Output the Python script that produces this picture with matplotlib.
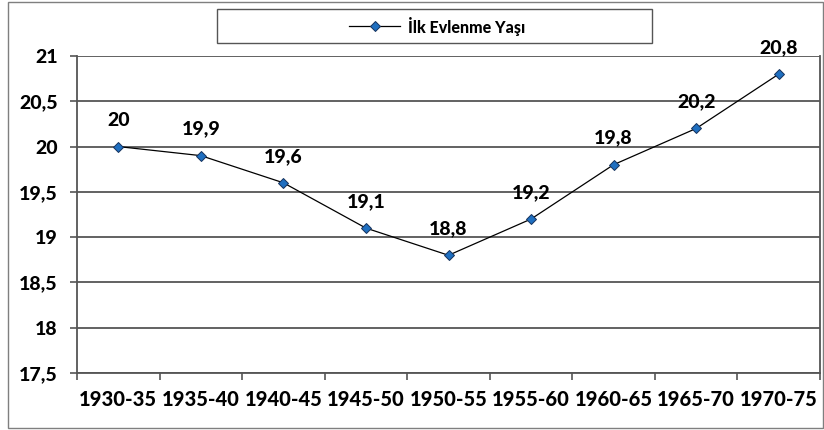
import matplotlib.pyplot as plt
from matplotlib.patches import Rectangle
from matplotlib.lines import Line2D

plt.rcParams['font.family'] = ['Lato', 'DejaVu Sans']

periods = ["1930-35", "1935-40", "1940-45", "1945-50", "1950-55",
           "1955-60", "1960-65", "1965-70", "1970-75"]
age = [20, 19.9, 19.6, 19.1, 18.8, 19.2, 19.8, 20.2, 20.8]
yticks = [17.5, 18, 18.5, 19, 19.5, 20, 20.5, 21]
series_name = "İlk Evlenme Yaşı"

W, H = 824, 430
fig = plt.figure(figsize=(W / 100, H / 100), dpi=100)
wt = 900

# outer chart border
fig.patches.append(Rectangle((8 / W, 2 / H), (823 - 8) / W, (428 - 2) / H,
                             transform=fig.transFigure, fill=False,
                             edgecolor='#7f7f7f', lw=1.0))

ax = fig.add_axes([77 / W, (H - 373) / H, (820 - 77) / W, (373 - 56) / H])
x = list(range(len(periods)))
ax.plot(x, age, color='black', lw=0.9, marker='D', markersize=5,
        markerfacecolor='#1f6fc0', markeredgecolor='#16325c', markeredgewidth=0.7,
        zorder=3)
for xi, v in zip(x, age):
    ax.annotate(("%g" % v).replace('.', ','), (xi, v), xytext=(0, 13),
                textcoords='offset points', ha='center', va='bottom',
                fontsize=14, fontweight=wt)

ax.set_xlim(-0.5, len(periods) - 0.5)
ax.set_ylim(17.5, 21)
ax.set_yticks(yticks)
ax.set_yticklabels([("%g" % t).replace('.', ',') for t in yticks],
                   fontsize=14, fontweight=wt)
ax.set_xticks(x)
ax.set_xticklabels(periods, fontsize=14.5, fontweight=wt)
ax.set_xticks([i - 0.5 for i in range(len(periods) + 1)], minor=True)
ax.tick_params(axis='x', which='major', length=0, pad=12)
ax.tick_params(axis='x', which='minor', length=5, width=1.2, color='#555555')
ax.tick_params(axis='y', length=5, width=1.2, color='#555555', pad=9)
ax.grid(axis='y', color='#555555', lw=1.3)
ax.set_axisbelow(True)
for s in ['top']:
    ax.spines[s].set_visible(False)
for s in ['left', 'bottom', 'right']:
    ax.spines[s].set_color('#555555')
    ax.spines[s].set_linewidth(1.3)

# legend box
fig.patches.append(Rectangle((217 / W, (H - 43) / H), (652 - 217) / W, (43 - 9) / H,
                             transform=fig.transFigure, fill=False,
                             edgecolor='#555555', lw=1.0))
ly = (H - 26) / H
fig.lines.append(Line2D([349 / W, 400 / W], [ly, ly], transform=fig.transFigure,
                        color='black', lw=0.9))
fig.lines.append(Line2D([374.5 / W], [ly], transform=fig.transFigure,
                        marker='D', markersize=5, markerfacecolor='#1f6fc0',
                        markeredgecolor='#16325c', markeredgewidth=0.7))
fig.text(408 / W, ly, series_name, fontsize=11.5, fontweight=wt, va='center')

fig.savefig('out.png', dpi=100)
